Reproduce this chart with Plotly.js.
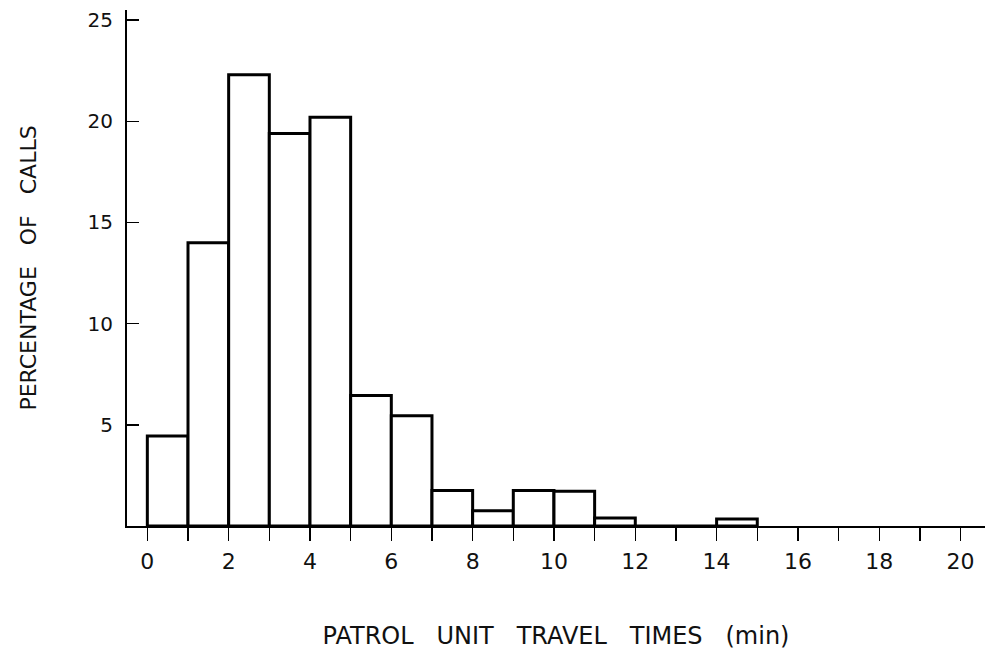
<!DOCTYPE html>
<html>
<head>
<meta charset="utf-8">
<script src="https://cdn.plot.ly/plotly-3.0.1.min.js"></script>
<style>html,body{margin:0;padding:0;background:#fff;}#chart{width:986px;height:650px;}</style>
</head>
<body>
<div id="chart"></div>
<script>
// Bin left edges (minutes) and percentage of calls per 1-minute bin
const binStarts = [0, 1, 2, 3, 4, 5, 6, 7, 8, 9, 10, 11, 12, 13, 14];
const percentages = [4.45, 14.0, 22.3, 19.4, 20.2, 6.45, 5.45, 1.75, 0.75, 1.75, 1.72, 0.4, 0, 0, 0.35];
const xTickValues = [0,1,2,3,4,5,6,7,8,9,10,11,12,13,14,15,16,17,18,19,20];
const xTickLabels = ["0","","2","","4","","6","","8","","10","","12","","14","","16","","18","","20"];
const yTickValues = [5, 10, 15, 20, 25];
const yTickLabels = ["5", "10", "15", "20", "25"];
const xTitle = "PATROL\u00A0\u00A0 UNIT\u00A0\u00A0 TRAVEL\u00A0\u00A0 TIMES\u00A0\u00A0 (min)";
const yTitle = "PERCENTAGE\u00A0\u00A0 OF\u00A0\u00A0 CALLS";

const trace = {
  type: 'bar',
  x: binStarts.map(b => b + 0.5),
  y: percentages,
  width: 1,
  marker: {color: '#ffffff', line: {color: '#000000', width: 3}},
  hoverinfo: 'x+y'
};

const font = {family: 'DejaVu Sans, Liberation Sans, sans-serif', color: '#111', size: 20};

const layout = {
  width: 986, height: 650,
  margin: {l: 127, r: 1, t: 10, b: 124},
  paper_bgcolor: '#fff', plot_bgcolor: '#fff',
  showlegend: false,
  font: font,
  bargap: 0,
  xaxis: {
    range: [-0.5, 20.6],
    tickmode: 'array', tickvals: xTickValues, ticktext: xTickLabels,
    ticks: 'outside', ticklen: 13, tickwidth: 1.5, tickcolor: '#000',
    showline: true, linecolor: '#000', linewidth: 2,
    showgrid: false, zeroline: false, automargin: false,
    tickfont: {size: 22}, ticklabelstandoff: 2,
    title: {text: xTitle, font: {size: 24}, standoff: 55}
  },
  yaxis: {
    range: [0, 25.5],
    tickmode: 'array', tickvals: yTickValues, ticktext: yTickLabels,
    ticks: 'inside', ticklen: 12, tickwidth: 1.5, tickcolor: '#000',
    showline: true, linecolor: '#000', linewidth: 2,
    showgrid: false, zeroline: false, automargin: false,
    tickfont: {size: 20}, ticklabelstandoff: 8,
    title: {text: yTitle, font: {size: 22}, standoff: 45}
  }
};

Plotly.newPlot('chart', [trace], layout, {displayModeBar: false, staticPlot: true});
</script>
</body>
</html>
